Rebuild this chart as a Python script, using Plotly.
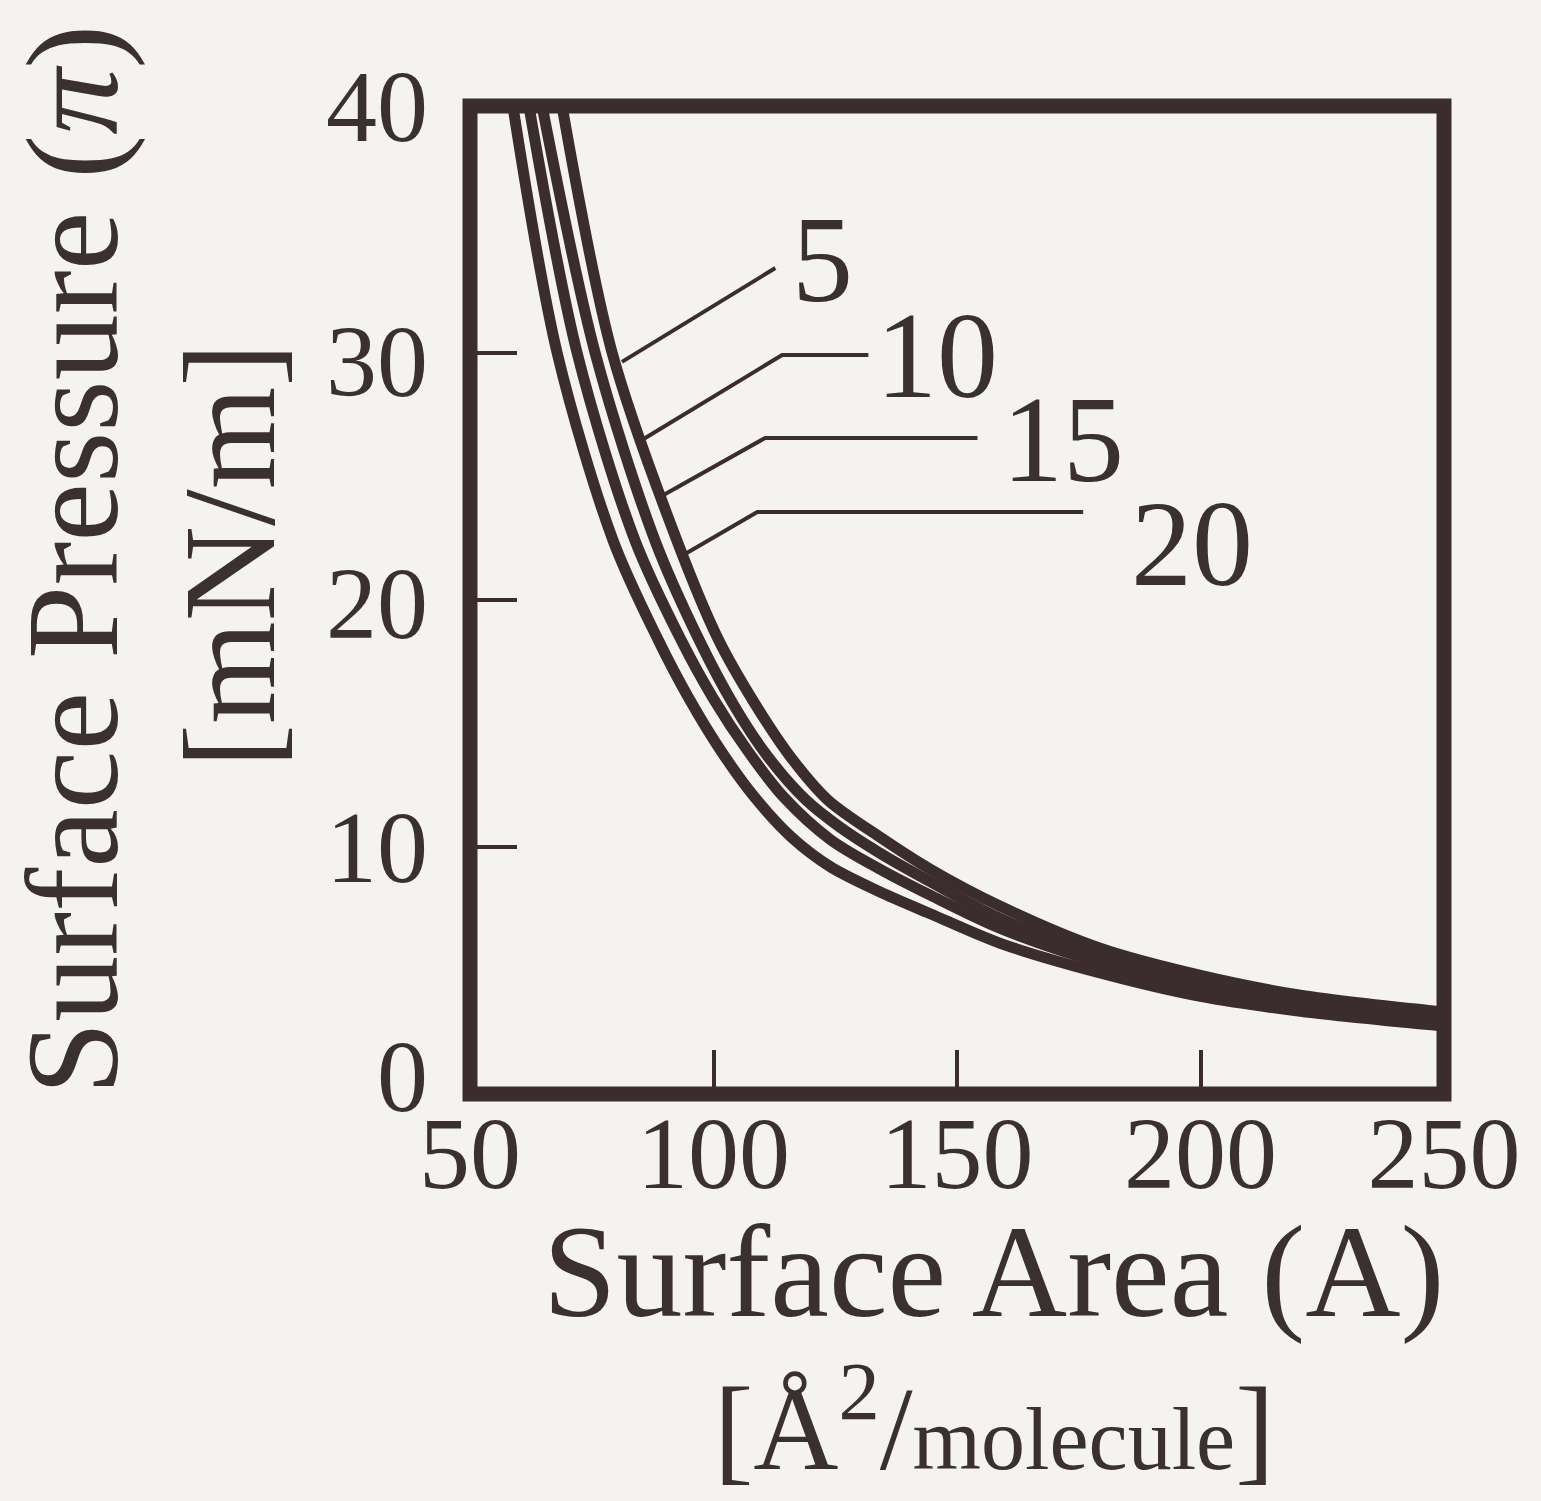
import plotly.graph_objects as go

# Surface pressure - area isotherms, four curves labelled 5, 10, 15, 20
labels = ["5", "10", "15", "20"]

# (area, pressure) readings for each isotherm, leftmost curve first
area_1 = [58.8, 67.9, 79.4, 88.6, 95.0, 101.5, 108.5, 116.0, 124.0, 134.0, 144.5, 158.9, 179.4, 200.0, 220.5, 250.0]
pres_1 = [40.0, 30.0, 22.4, 18.4, 16.0, 13.9, 12.0, 10.4, 9.2, 8.2, 7.3, 6.1, 4.9, 3.95, 3.35, 2.75]

area_2 = [62.1, 72.0, 83.9, 93.3, 100.0, 107.0, 114.5, 124.0, 134.2, 144.5, 158.9, 179.4, 200.0, 220.5, 250.0]
pres_2 = [40.0, 30.0, 22.4, 18.4, 16.0, 13.9, 12.0, 10.3, 9.1, 8.05, 6.7, 5.3, 4.25, 3.6, 2.96]

area_3 = [64.8, 75.7, 88.0, 97.0, 104.0, 111.0, 119.0, 126.0, 134.2, 144.5, 158.9, 179.4, 200.0, 220.5, 250.0]
pres_3 = [40.0, 30.0, 22.4, 18.4, 15.8, 13.7, 11.9, 10.8, 9.75, 8.6, 7.1, 5.6, 4.5, 3.8, 3.12]

area_4 = [68.9, 79.2, 92.5, 101.0, 108.5, 116.0, 123.5, 134.2, 144.5, 158.9, 179.4, 200.0, 220.5, 250.0]
pres_4 = [40.0, 30.0, 22.4, 18.4, 15.8, 13.6, 11.9, 10.4, 9.1, 7.6, 5.9, 4.8, 4.0, 3.32]

x_ticks = [50, 100, 150, 200, 250]
y_ticks = [0, 10, 20, 30, 40]
# vertical nudge (px) of each y tick label, same order as y_ticks
y_label_nudge = [18, 0, -3, -8, 0]

INK = "#3b2c2e"
TEXT = "#3a3032"
BG = "#f5f3f2"
SERIF = "Liberation Serif, Times New Roman, serif"

fig = go.Figure()
for xs, ys in [(area_1, pres_1), (area_2, pres_2), (area_3, pres_3), (area_4, pres_4)]:
    fig.add_trace(go.Scatter(
        x=xs, y=ys, mode="lines",
        line=dict(color=INK, width=11, shape="spline", smoothing=0.9),
        showlegend=False, hoverinfo="skip",
    ))

# leader lines from the curve bundle to each label: (start, elbow, end)
leaders = [
    [(81.2, 29.64), (112.7, 33.44)],
    [(85.3, 26.48), (114.1, 29.92), (131.8, 29.92)],
    [(89.0, 24.17), (110.6, 26.56), (154.2, 26.56)],
    [(93.8, 21.82), (109.0, 23.56), (175.9, 23.56)],
]
label_pos = [(122.4, 33.8), (145.8, 29.9), (171.8, 26.5), (198.3, 22.3)]

shapes = []
for pts in leaders:
    path = "M " + " L ".join(f"{a},{p}" for a, p in pts)
    shapes.append(dict(type="path", path=path, xref="x", yref="y",
                       line=dict(color=INK, width=4), layer="above"))
# heavy frame around the plotting area
shapes.append(dict(type="rect", xref="paper", yref="paper", x0=0, x1=1, y0=0, y1=1,
                   line=dict(color=INK, width=15), layer="above"))

annotations = []
for lab, (a, p) in zip(labels, label_pos):
    annotations.append(dict(x=a, y=p, xref="x", yref="y", text=lab, showarrow=False,
                            font=dict(family=SERIF, size=122, color=TEXT)))

# y tick labels, set just left of the frame
for v, dy in zip(y_ticks, y_label_nudge):
    annotations.append(dict(x=0, y=v, xref="paper", yref="y", text=str(v),
                            showarrow=False, xanchor="right", yanchor="middle",
                            xshift=-40, yshift=dy,
                            font=dict(family=SERIF, size=102, color=TEXT)))

annotations += [
    dict(x=0.538, y=-0.18, xref="paper", yref="paper", text="Surface Area (A)",
         showarrow=False, font=dict(family=SERIF, size=132, color=TEXT),
         xanchor="center", yanchor="middle"),
    dict(x=0.538, y=-0.33, xref="paper", yref="paper",
         text="[Å<sup>2</sup>/<span style='font-size:88px'>molecule</span>]",
         showarrow=False, font=dict(family=SERIF, size=118, color=TEXT),
         xanchor="center", yanchor="middle"),
    dict(x=-0.408, y=0.54, xref="paper", yref="paper", text="Surface Pressure (<i>π</i>)",
         showarrow=False, textangle=-90, font=dict(family=SERIF, size=132, color=TEXT),
         xanchor="center", yanchor="middle"),
    dict(x=-0.247, y=0.545, xref="paper", yref="paper", text="[mN/m]",
         showarrow=False, textangle=-90, font=dict(family=SERIF, size=132, color=TEXT),
         xanchor="center", yanchor="middle"),
]

fig.update_layout(
    width=1541, height=1501,
    margin=dict(l=470, r=97, t=106, b=407),
    paper_bgcolor=BG, plot_bgcolor=BG,
    shapes=shapes, annotations=annotations,
    xaxis=dict(range=[50, 250], tickvals=x_ticks, ticktext=[str(v) for v in x_ticks],
               ticks="inside", ticklen=44, tickwidth=4, tickcolor=INK,
               showgrid=False, zeroline=False, showline=False,
               tickfont=dict(family=SERIF, size=102, color=TEXT),
               ticklabelstandoff=-9),
    yaxis=dict(range=[0, 40], tickvals=y_ticks, showticklabels=False,
               ticks="inside", ticklen=47, tickwidth=4, tickcolor=INK,
               showgrid=False, zeroline=False, showline=False),
)

fig.write_html("out.html")
